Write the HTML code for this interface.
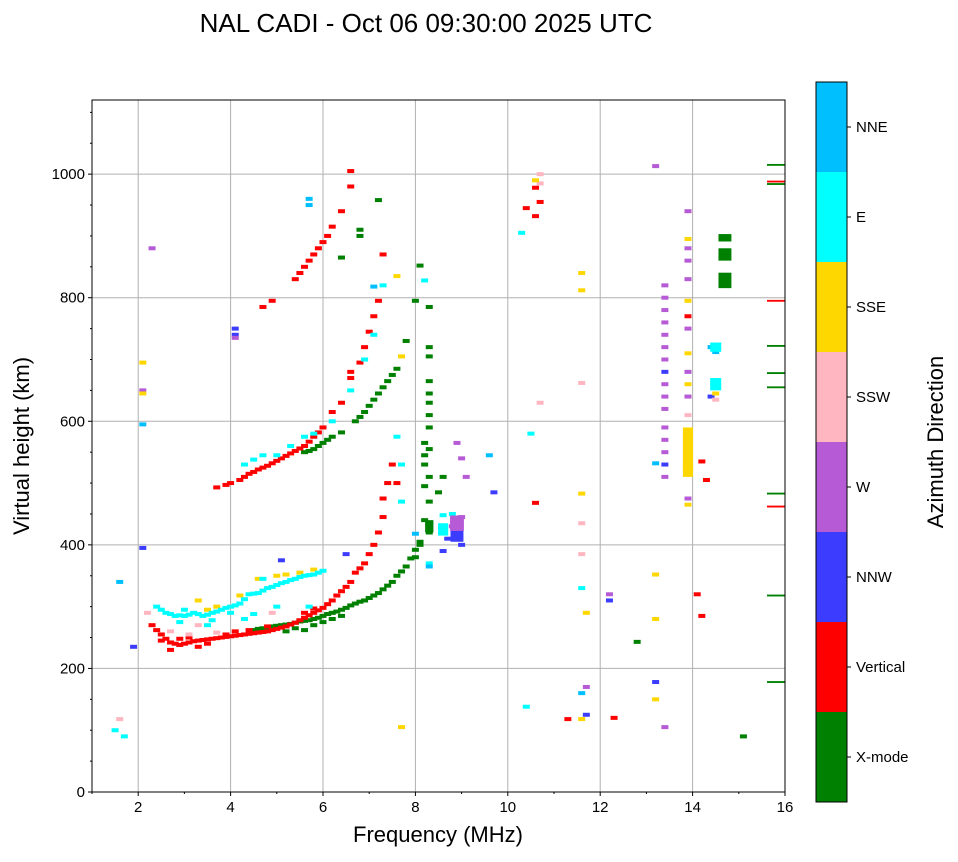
<!DOCTYPE html>
<html><head><meta charset="utf-8">
<style>
body{margin:0;background:#fff;width:958px;height:857px;overflow:hidden;font-family:"Liberation Sans",sans-serif}
svg text{font-family:"Liberation Sans",sans-serif}
</style></head>
<body>
<svg id="chart" width="958" height="857" xmlns="http://www.w3.org/2000/svg">
<text x="426" y="32" font-size="26" text-anchor="middle">NAL CADI - Oct 06 09:30:00 2025 UTC</text>
<g id="grid"></g>
<g id="marks"></g>
<rect x="92" y="100" width="693" height="692" fill="none" stroke="#000" stroke-width="1"/>
<g id="axes"></g>
<text x="438" y="842" font-size="22" text-anchor="middle">Frequency (MHz)</text>
<text transform="translate(29,446) rotate(-90)" font-size="22" text-anchor="middle">Virtual height (km)</text>
<g id="cbar"></g>
<text transform="translate(943,442) rotate(-90)" font-size="22" text-anchor="middle">Azimuth Direction</text>
</svg>
<script>
const xTicks=[2,4,6,8,10,12,14,16];
const yTicks=[0,200,400,600,800,1000];
const categories=["X-mode","Vertical","NNW","W","SSW","SSE","E","NNE"];
const catColors=["#008000","#ff0000","#3c3cff","#b65ad6","#ffb6c1","#ffd700","#00ffff","#00bfff"];
// [freq MHz, height km, category index]
const xModeEchoes=[[4.5,262,0],[4.6,264,0],[4.7,265,0],[4.8,266,0],[4.9,268,0],[5.0,269,0],[5.1,270,0],[5.2,271,0],[5.3,272,0],[5.4,274,0],[5.5,276,0],[5.6,277,0],[5.7,278,0],[5.8,280,0],[5.9,282,0],[6.0,285,0],[6.1,288,0],[6.2,290,0],[6.3,292,0],[6.4,295,0],[6.5,298,0],[6.6,302,0],[6.7,305,0],[6.8,308,0],[6.9,310,0],[7.0,314,0],[7.1,318,0],[7.2,322,0],[7.3,328,0],[7.4,334,0],[7.5,340,0],[7.6,350,0],[7.7,357,0],[7.8,365,0],[7.9,378,0],[8.0,392,0],[8.1,405,0],[5.6,262,0],[6.0,275,0],[6.2,280,0],[5.2,260,0],[5.4,265,0],[5.8,270,0],[6.4,285,0],
[5.6,550,0],[5.7,552,0],[5.8,555,0],[5.9,560,0],[6.0,565,0],[6.1,570,0],[6.2,575,0],[6.4,582,0],[6.7,600,0],[6.8,607,0],[6.9,615,0],[7.0,625,0],[7.1,635,0],[7.2,645,0],[7.3,655,0],[7.4,665,0],[7.5,675,0],[7.6,685,0],[7.8,730,0],[6.4,865,0],[6.8,910,0],[6.8,900,0],[8.1,852,0],[8.0,795,0],[8.3,785,0],[7.2,958,0],
[8.3,720,0],[8.3,705,0],[8.3,665,0],[8.3,645,0],[8.3,630,0],[8.3,610,0],[8.3,590,0],[8.2,565,0],[8.3,555,0],[8.2,530,0],[8.3,510,0],[8.2,495,0],[8.3,470,0],[8.2,440,0],[8.3,420,0],[8.1,400,0],[8.0,380,0],[8.2,545,0],[8.6,510,0],[8.5,485,0],
[12.8,243,0],[15.1,90,0]];
const verticalEchoes=[[2.3,270,1],[2.4,262,1],[2.5,255,1],[2.6,248,1],[2.7,242,1],[2.8,240,1],[2.9,238,1],[3.0,240,1],[3.1,242,1],[3.2,244,1],[3.3,245,1],[3.4,246,1],[3.5,247,1],[3.6,248,1],[3.7,249,1],[3.8,250,1],[3.9,251,1],[4.0,252,1],[4.1,253,1],[4.2,254,1],[4.3,255,1],[4.4,256,1],[4.5,257,1],[4.6,258,1],[4.7,259,1],[4.8,260,1],[4.9,262,1],[5.0,264,1],[5.1,266,1],[5.2,268,1],[5.3,271,1],[5.4,274,1],[5.5,278,1],[5.6,282,1],[5.7,286,1],[5.8,290,1],[5.9,294,1],[6.0,298,1],[6.1,304,1],[6.2,310,1],[6.3,318,1],[6.4,325,1],[6.5,332,1],[6.6,340,1],[6.7,355,1],[6.8,362,1],[6.9,370,1],[7.0,385,1],[7.1,400,1],[7.2,420,1],[7.3,445,1],[7.3,475,1],[7.4,500,1],[2.7,230,1],[3.3,235,1],[3.9,255,1],[4.1,260,1],[2.5,245,1],[2.9,248,1],[3.1,250,1],[3.5,240,1],[4.4,262,1],[4.8,268,1],[5.6,290,1],[5.8,297,1],
[3.7,493,1],[3.9,497,1],[4.0,500,1],[4.2,505,1],[4.3,510,1],[4.4,515,1],[4.5,518,1],[4.6,522,1],[4.7,525,1],[4.8,528,1],[4.9,532,1],[5.0,536,1],[5.1,540,1],[5.2,544,1],[5.3,548,1],[5.4,552,1],[5.5,556,1],[5.6,560,1],[5.7,567,1],[5.8,575,1],[5.9,582,1],[6.0,590,1],[6.2,615,1],[6.4,630,1],[6.6,670,1],[6.6,680,1],[6.8,695,1],[6.9,720,1],[7.0,745,1],[7.1,770,1],[7.2,795,1],
[4.7,785,1],[4.9,795,1],[5.4,830,1],[5.5,840,1],[5.6,850,1],[5.7,860,1],[5.8,870,1],[5.9,880,1],[6.0,890,1],[6.1,900,1],[6.2,915,1],[6.4,940,1],[6.6,1005,1],[6.6,980,1],[7.3,870,1],[7.5,530,1],[7.6,500,1],
[10.6,978,1],[10.6,932,1],[10.7,955,1],[10.4,945,1],[10.6,468,1],[11.3,118,1],[12.3,120,1],[13.9,770,1],[14.2,535,1],[14.3,505,1],[14.2,285,1],[14.1,320,1]];
const nnwEchoes=[[4.1,750,2],[4.1,740,2],[1.9,235,2],[2.1,395,2],[8.9,420,2],[8.7,410,2],[8.6,390,2],[9.0,400,2],[9.7,485,2],[12.2,310,2],[13.2,178,2],[13.4,680,2],[13.4,530,2],[11.7,125,2],[6.5,385,2],[5.1,375,2],[14.4,640,2]];
const wEchoes=[[8.9,440,3],[8.8,430,3],[9.0,445,3],[8.9,565,3],[9.1,510,3],[9.0,540,3],[12.2,320,3],[13.2,1013,3],[13.4,820,3],[13.4,800,3],[13.4,780,3],[13.4,760,3],[13.4,740,3],[13.4,720,3],[13.4,700,3],[13.4,660,3],[13.4,640,3],[13.4,620,3],[13.4,590,3],[13.4,570,3],[13.4,550,3],[13.4,510,3],[13.9,940,3],[13.9,880,3],[13.9,860,3],[13.9,830,3],[13.9,750,3],[13.9,680,3],[13.9,640,3],[13.9,475,3],[13.4,105,3],[11.7,170,3],[2.3,880,3],[2.1,650,3],[4.1,735,3]];
const sswEchoes=[[10.7,1000,4],[10.7,985,4],[11.6,662,4],[11.6,435,4],[11.6,385,4],[14.5,635,4],[13.9,610,4],[2.2,290,4],[2.7,260,4],[3.3,270,4],[1.6,118,4],[10.7,630,4],[3.1,255,4],[3.7,258,4],[4.9,290,4]];
const sseEchoes=[[10.6,990,5],[11.6,840,5],[11.6,812,5],[11.6,483,5],[11.7,290,5],[13.2,352,5],[13.2,280,5],[13.2,150,5],[11.6,118,5],[13.9,895,5],[13.9,795,5],[13.9,710,5],[13.9,660,5],[13.9,465,5],[14.5,645,5],[2.1,695,5],[2.1,645,5],[3.7,300,5],[4.6,345,5],[5.0,350,5],[5.5,355,5],[3.3,310,5],[7.7,105,5],[7.6,835,5],[7.7,705,5],[4.2,318,5],[5.2,352,5],[5.8,360,5],[3.5,295,5]];
const eEchoes=[[2.4,300,6],[2.5,295,6],[2.6,290,6],[2.7,288,6],[2.8,285,6],[2.9,286,6],[3.0,285,6],[3.1,287,6],[3.2,290,6],[3.3,288,6],[3.4,285,6],[3.5,287,6],[3.6,290,6],[3.7,292,6],[3.8,295,6],[3.9,298,6],[4.0,300,6],[4.1,302,6],[4.2,305,6],[4.3,312,6],[4.4,320,6],[4.5,321,6],[4.6,322,6],[4.7,326,6],[4.8,330,6],[4.9,332,6],[5.0,335,6],[5.1,338,6],[5.2,340,6],[5.3,343,6],[5.4,345,6],[5.5,348,6],[5.6,350,6],[5.7,351,6],[5.8,352,6],[5.9,355,6],[6.0,358,6],[2.9,275,6],[3.5,270,6],[4.3,280,6],[4.7,345,6],[5.7,300,6],[3.0,295,6],[3.6,278,6],[4.0,290,6],[4.5,288,6],[5.0,300,6],
[4.3,530,6],[4.5,538,6],[4.7,545,6],[5.0,545,6],[5.3,560,6],[5.6,575,6],[5.8,580,6],[6.2,600,6],[6.6,650,6],[6.9,700,6],[7.1,740,6],[7.3,820,6],[7.6,575,6],[7.7,530,6],[7.7,470,6],[8.6,448,6],[8.3,370,6],[8.2,828,6],[10.3,905,6],[10.5,580,6],[10.4,138,6],[11.6,330,6],[1.5,100,6],[1.7,90,6],[8.8,450,6]];
const nneEchoes=[[5.7,960,7],[5.7,950,7],[2.1,595,7],[1.6,340,7],[8.3,365,7],[8.0,418,7],[9.6,545,7],[14.4,720,7],[14.5,712,7],[7.1,818,7],[11.6,160,7],[13.2,532,7]];
// blocks: [freq, height, category, width MHz, height km]
const blockEchoes=[[14.7,870,0,0.28,20],[14.7,828,0,0.28,25],[14.7,897,0,0.28,12],[13.9,555,5,0.22,70],[13.9,520,5,0.22,20],[14.5,720,6,0.24,15],[14.5,660,6,0.24,20],[8.9,415,2,0.28,20],[8.9,435,3,0.3,25],[8.6,425,6,0.22,20],[8.3,430,0,0.18,20],
[15.8,1015,0,0.38,3],[15.8,988,1,0.38,3],[15.8,984,0,0.38,3],[15.8,795,1,0.38,3],[15.8,722,0,0.38,3],[15.8,678,0,0.38,3],[15.8,655,0,0.38,3],[15.8,483,0,0.38,3],[15.8,462,1,0.38,3],[15.8,318,0,0.38,3],[15.8,178,0,0.38,3]];

const X0=92,X1=785,Y0=792,Y1=100;
const xs=f=>X0+(f-1)/(16-1)*(X1-X0);
const ys=h=>Y0-h/1120*(Y0-Y1);
const NS="http://www.w3.org/2000/svg";
function mk(tag,attrs,parent){const e=document.createElementNS(NS,tag);for(const k in attrs)e.setAttribute(k,attrs[k]);parent.appendChild(e);return e;}
const grid=document.getElementById('grid'),axes=document.getElementById('axes'),marks=document.getElementById('marks'),cbar=document.getElementById('cbar');
xTicks.forEach(t=>{const x=xs(t);
 const g=mk('line',{x1:x,x2:x,y1:Y1,y2:Y0,stroke:'#b0b0b0','stroke-width':1},grid);
 
 mk('line',{x1:x,x2:x,y1:Y0,y2:Y0+4,stroke:'#000'},axes);
 const tx=mk('text',{x:x,y:Y0+20,'font-size':15,'text-anchor':'middle'},axes);tx.textContent=t;
 });
for(let m=1;m<=16;m++){if(m%2)mk('line',{x1:xs(m),x2:xs(m),y1:Y0,y2:Y0+2,stroke:'#000'},axes);}
yTicks.forEach(t=>{const y=ys(t);
 const g=mk('line',{x1:X0,x2:X1,y1:y,y2:y,stroke:'#b0b0b0','stroke-width':1},grid);
 
 mk('line',{x1:X0-4,x2:X0,y1:y,y2:y,stroke:'#000'},axes);
 const tx=mk('text',{x:X0-7,y:y+5,'font-size':15,'text-anchor':'end'},axes);tx.textContent=t;
 });
for(let h=50;h<1120;h+=50){if(h%200)mk('line',{x1:X0-2,x2:X0,y1:ys(h),y2:ys(h),stroke:'#000'},axes);}
const all=[].concat(xModeEchoes,verticalEchoes,nnwEchoes,wEchoes,sswEchoes,sseEchoes,eEchoes,nneEchoes);
all.forEach(p=>{const r=mk('rect',{x:xs(p[0])-3.5,y:ys(p[1])-2,width:7,height:4,fill:catColors[p[2]]},marks);
 });
blockEchoes.forEach(b=>{const x=xs(b[0]-b[3]/2),w=xs(b[0]+b[3]/2)-x,y=ys(b[1]+b[4]/2),h=ys(b[1]-b[4]/2)-y;
 const r=mk('rect',{x:x,y:y,width:w,height:h,fill:catColors[b[2]]},marks);
 });
const CB0=82,CB1=802,cbx=816,cbw=31,seg=(CB1-CB0)/categories.length;
categories.forEach((c,i)=>{const y=CB1-(i+1)*seg;
 const r=mk('rect',{x:cbx,y:y,width:cbw,height:seg,fill:catColors[i]},cbar);
 
 mk('line',{x1:cbx+cbw,x2:cbx+cbw+4,y1:y+seg/2,y2:y+seg/2,stroke:'#000'},cbar);
 const t=mk('text',{x:cbx+cbw+9,y:y+seg/2+5,'font-size':15},cbar);t.textContent=c;
 });
mk('rect',{x:cbx,y:CB0,width:cbw,height:CB1-CB0,fill:'none',stroke:'#000'},cbar);
</script>
</body></html>
